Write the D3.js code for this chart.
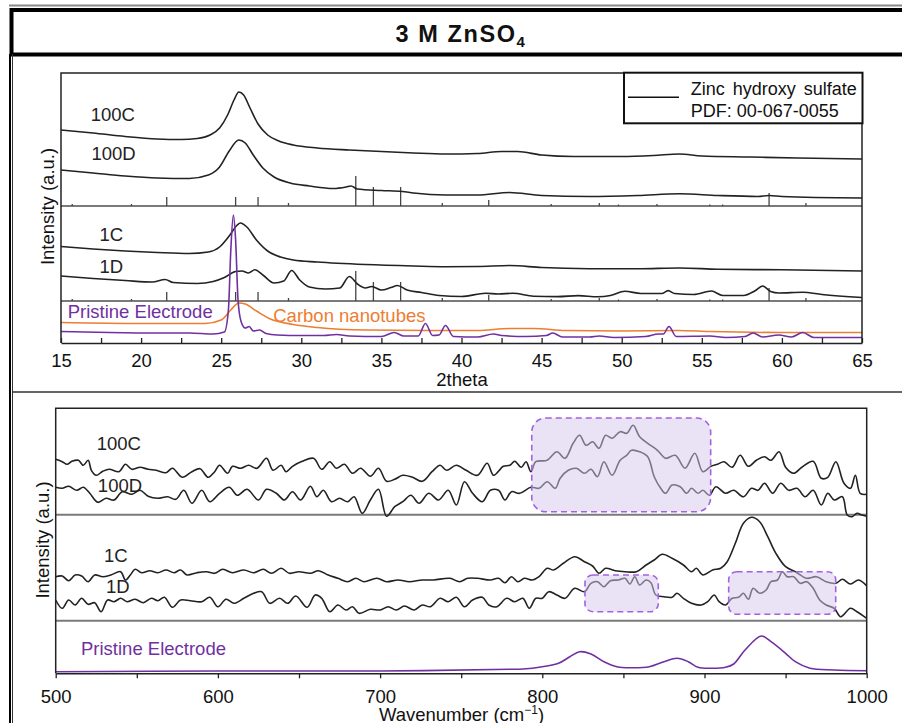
<!DOCTYPE html>
<html>
<head>
<meta charset="UTF-8">
<title>3 M ZnSO4</title>
<style>
  body { margin: 0; background: #fff; }
  svg { display: block; font-family: "Liberation Sans", Arial, sans-serif; }
</style>
</head>
<body>
<svg></svg>
<script src="https://d3js.org/d3.v7.min.js"></script>
<script>

// ---------- data: XRD (2theta, a.u.) ----------
let xrd100C = [[15,213],[17,210],[19,206.5],[21,204],[22.5,203.5],[23.5,204.5],[24.3,208],[24.9,215],[25.4,228],[25.8,243],[26.1,251],[26.4,248],[26.8,235],[27.3,219],[27.9,208],[28.6,202],[29.5,198],[31,195],[33,193],[35,191.5],[37,190],[39,189],[41,189.5],[42.5,191.5],[43.5,191.5],[45,188],[47,186.5],[50,186.5],[52,187.5],[53.6,189],[55,187],[58,186],[61,185],[65,184]];
let xrd100D = [[15,173],[17,170],[19,167],[21,165],[23,164.5],[24.2,168],[24.9,176],[25.5,192],[26.1,203],[26.5,200],[27,188],[27.6,175],[28.3,166],[29.3,160],[30.5,157],[32,154.5],[32.8,156],[33.1,157],[33.5,154],[35,152.5],[36.3,151.5],[37,150],[39,148],[41,148],[43,150.5],[45,147.5],[48,146.5],[51,147.5],[53.6,149.2],[56,147.5],[58.5,146.5],[59.2,147.5],[60,146.5],[65,145]];
let xrd1C = [[15,96.5],[17,94],[19,92],[21,90.5],[23,89.5],[24.2,91],[24.9,96],[25.5,107],[26,118],[26.2,120],[26.6,116],[27.2,103],[27.9,92],[28.7,86],[29.5,83],[31,81],[34,78.5],[37,77],[39,76.3],[41,76.5],[43,77.5],[45,75.5],[48,74.3],[51,74.2],[53.6,75],[56,73.8],[60,73.2],[65,72]];
let xrd1D = [[15,67],[17,64.5],[19,62.5],[20.7,61],[21.5,63.5],[22,60.5],[23.5,59.5],[24.5,61.5],[25.2,65.5],[25.9,71.5],[26.3,72],[26.7,70],[27.1,73.2],[27.6,68],[28.3,60],[28.9,62],[29.4,72.5],[29.9,63],[30.5,56],[31.5,54],[32.4,55],[33,66.5],[33.5,59],[34,55],[34.4,56.5],[35,53],[35.6,55.5],[36,57.5],[36.6,53],[37.5,50.5],[38.6,47.5],[40,46.5],[41.5,49.8],[42.3,49],[43.2,49.7],[44.5,46.8],[46,46.4],[47.3,47.4],[48.5,46.2],[49.3,47.5],[50.2,51.7],[51.2,49.5],[52.5,49.5],[52.9,52.4],[53.3,49.5],[54.5,48.5],[55.6,52],[56.3,47.5],[57.6,47.5],[58.3,52],[58.8,57],[59.3,51.5],[59.8,50],[61.3,50.7],[62.5,48.5],[65,45.5]];
let xrdPristine = [[15,11.5],[18,10.5],[21,10],[23,10],[24.5,9],[25.2,11],[25.45,33],[25.6,93],[25.76,128],[25.9,103],[26.05,43],[26.25,21],[26.5,15],[26.75,16.5],[27,12],[27.4,13],[27.8,9.5],[28.5,8],[30,7.5],[31.4,7.5],[32.2,8.5],[33,7],[35,6.5],[35.8,10.5],[36.4,7],[37.3,7],[37.75,19.5],[38.2,7.5],[38.6,8],[39,17.5],[39.5,6.5],[41,6],[42,9],[42.5,7.5],[44,6.5],[45.3,7.5],[45.7,10],[46.3,6],[48,6],[48.6,7],[49.5,5.5],[51.5,6.5],[52.3,9],[52.6,9],[52.95,16.5],[53.4,6.5],[55.5,7],[56.5,5.5],[57.7,6.5],[58.2,10],[58.8,6],[59.8,8],[60.6,6],[61.3,10.5],[62,5.5],[65,5.5]];
let xrdCNT = [[15,20.5],[20,19.5],[24,19.5],[25,23],[25.6,33],[26.1,40],[26.5,39],[27.2,32],[28,24.5],[29.5,18.5],[31,15.5],[34,13],[38,12.5],[41,12.5],[43,14.5],[44.5,14.5],[46.5,12.5],[50,12],[53.5,12.5],[55.5,11.5],[60,10.5],[65,10.5]];

// reference pattern, zinc hydroxy sulfate PDF 00-067-0055
let pdfPos    = [15.7, 19.4, 21.6, 25.9, 27.3, 29.2, 33.4, 34.5, 36.2, 38.8, 41.7, 45.6, 48.6, 49.8, 52.2, 55.5, 56.3, 59.2, 61.5];
let pdfHeight = [2, 2, 9, 9, 9, 3, 30, 19, 19, 3, 6, 2, 3, 1.5, 2, 1.5, 1.5, 13, 3];
let xrdBaselines = [137, 42];

let xrdLabels = [
  {text: "100C", x: 16.85, y: 222, color: "#222"},
  {text: "100D", x: 16.9, y: 183, color: "#222"},
  {text: "1C", x: 17.4, y: 102.3, color: "#222"},
  {text: "1D", x: 17.4, y: 70.3, color: "#222"},
  {text: "Pristine Electrode", x: 15.42, y: 24.7, color: "#7030A0"},
  {text: "Carbon nanotubes", x: 28.25, y: 21.3, color: "#ED7D31"}
];
let xrdTicks = d3.range(15, 65.01, 2.5);

// ---------- data: Raman (cm-1, a.u.) ----------
let raman100C = [[500,214],[504,211.6],[507,209],[510,212],[514,213],[517,208],[520,213],[522,203],[525,198],[529,202],[533,204],[539,201.6],[543,209],[547,204],[552,206],[557,204],[562,203],[568,200.6],[572,205],[578,196],[584,201.6],[589,204.6],[594,196],[598,201.6],[601,208],[606,200],[609,207],[614,205],[619,208],[624,205],[630,215],[634,203],[639,208],[642,201.6],[646,207],[652,212],[659,215],[664,204],[669,211.6],[673,205],[678,209],[683,200],[688,205],[694,197],[699,205],[704,192],[709,194],[714,198],[720,196],[726,192],[732,201.6],[737,208],[741,203],[747,208],[753,203],[760,198],[766,210],[770,198],[776,207],[780,208],[783,212],[787,206],[790,211.6],[793,201.6],[796,211.6],[803,213],[809,221.6],[814,215],[819,230],[823,238],[827,228],[831,231.6],[835,225],[839,238],[843,235],[848,241.6],[852,240],[856,248],[860,236.6],[865,230],[871,223],[876,215],[882,218],[888,205],[894,220],[899,201.6],[904,207],[908,209],[912,211.6],[917,206],[922,218],[927,207],[932,213],[937,216.6],[941,213],[946,221.6],[950,206],[955,200],[960,206],[967,212],[972,195],[976,196],[981,211.6],[986,190],[990,185],[993,198],[996,180],[1000,179]];
let raman100D = [[500,186],[504,185],[508,187],[513,183],[517,186],[521,180],[526,171],[531,175],[536,173.3],[541,181.6],[547,179],[552,183],[557,177],[563,175],[569,176.6],[574,174],[579,183],[584,170],[590,183],[595,171.6],[601,180],[607,186],[612,178],[618,184],[625,173.3],[630,184],[636,180],[641,173.3],[646,181.6],[651,173.3],[657,187],[661,176.6],[665,183],[670,171.6],[675,175],[680,171.6],[684,176.6],[689,160],[694,173.3],[699,184],[704,157],[709,166.6],[714,171.6],[719,178],[724,170],[730,180],[736,173.3],[742,183],[747,168.3],[752,191.6],[757,180],[763,171.6],[768,183],[773,183],[777,173.3],[781,181.6],[786,180],[793,186],[798,185],[803,191.6],[808,185],[811,195],[816,203],[821,205],[826,200],[830,204],[834,196.6],[838,211.6],[843,198],[848,213],[852,218],[855,223],[860,221.6],[865,216.6],[869,196.6],[873,185],[876,180],[880,188.3],[885,186.6],[889,180],[892,185],[896,180],[899,183],[903,178],[907,186.6],[913,180],[918,183],[924,176.6],[929,185],[933,183],[937,190],[942,180],[947,190],[952,183],[957,185],[962,176.6],[967,183],[972,168.3],[976,180],[980,173.3],[985,176.6],[988,158.3],[991,156.6],[994,160],[997,158.3],[1000,157]];
let raman1C = [[500,96.6],[504,97.3],[508,92.6],[512,98.3],[516,97.3],[520,91.6],[524,98.3],[529,96.6],[534,98.3],[540,101.6],[543,93.3],[546,98.3],[549,104],[553,100.6],[558,102.6],[563,100.6],[568,103.3],[573,100.6],[577,103.3],[581,98.3],[587,100.6],[593,101.6],[598,100],[603,104],[609,100.6],[616,103.3],[622,100.6],[628,104],[633,100],[639,105],[644,100],[650,101.6],[657,100],[662,102.6],[668,98.3],[674,95],[680,91.6],[685,95],[690,91.6],[698,95],[704,91.6],[711,93.3],[718,91.6],[726,93.3],[733,93.3],[743,95],[749,91.6],[754,95],[760,95],[768,93.3],[773,95],[777,90.6],[781,96.6],[785,91.6],[789,95],[794,93.3],[798,96.6],[803,105],[807,103.3],[813,110],[820,116.6],[826,111.6],[831,107.3],[835,100],[839,105],[845,102.6],[851,101.6],[858,101.6],[864,108.3],[869,113.3],[874,119],[880,115],[887,108.3],[892,101.6],[895,105],[899,98.3],[905,103.3],[910,105],[914,111.6],[919,130],[924,150],[929,156],[934,151.6],[939,136.6],[944,120],[950,106.6],[956,101.6],[963,95],[969,96.6],[975,91.6],[981,90],[985,94],[990,89.3],[995,93.3],[1000,87.3]];
let raman1D = [[500,73.3],[504,65],[508,73.3],[512,68.3],[516,75],[520,69],[524,70.6],[528,61.6],[532,73.3],[536,71.6],[540,75],[544,71.6],[549,74],[554,70.6],[559,75],[563,72.6],[567,76],[572,66],[577,73.3],[583,72.6],[590,71.6],[595,76],[600,66.6],[605,74],[610,70],[616,75],[622,80],[627,81.6],[632,70],[638,75],[643,70],[648,77.3],[655,66],[660,78.3],[664,75],[669,61.6],[674,68.3],[679,63.3],[683,66.6],[687,60],[694,64],[700,63.3],[705,66.6],[710,63.3],[715,67.3],[721,63.3],[726,68.3],[731,66.6],[737,75],[742,71.6],[747,76],[752,66.6],[757,73.3],[763,76],[767,68.3],[772,66.6],[778,75],[783,71.6],[788,75],[792,65],[796,75],[800,75],[804,81.6],[809,78.3],[814,75],[820,85],[826,81.6],[830,90],[834,91.6],[838,86.6],[842,92.6],[847,93.3],[851,95],[854,89.3],[857,96.6],[860,88.3],[864,93.3],[867,90.6],[870,78.3],[875,76.6],[880,76],[883,80],[887,75],[892,70],[898,68.3],[902,71.6],[906,78.3],[909,71.6],[913,68.3],[917,75],[921,76],[924,80],[927,74],[930,85],[934,80],[938,83.3],[941,91.6],[945,93.3],[948,101.6],[951,96.6],[955,96.6],[959,90],[963,91.6],[967,85],[971,73.3],[975,68.3],[980,65],[984,56.6],[990,65],[994,61.6],[1000,55]];
let ramanPristine = [[500,1.6],[600,2.3],[700,2.3],[780,4],[788,4.3],[800,6.6],[810,10],[817,16.6],[823,21.6],[830,19.3],[838,11.6],[846,6.6],[855,5.6],[866,6.6],[875,11.6],[883,15],[890,11.6],[896,6],[904,5],[913,6],[918,9.3],[925,23.3],[935,37.3],[941,31.6],[950,20],[956,11.6],[965,5],[980,3.3],[1000,2.6]];

// highlighted regions: [x0, x1, y0, y1] in data units
let ramanBoxes = [[793.5, 903.8, 161.6, 255.3], [826.3, 871.5, 61.6, 98.3], [914.9, 980.9, 59, 101.6]];
let ramanDividers = [158.6, 52.6];

let ramanLabels = [
  {text: "100C", x: 525.3, y: 223.3, color: "#222"},
  {text: "100D", x: 526, y: 181.6, color: "#222"},
  {text: "1C", x: 529.8, y: 111.6, color: "#222"},
  {text: "1D", x: 531, y: 80.3, color: "#222"},
  {text: "Pristine Electrode", x: 515.6, y: 18.3, color: "#7030A0"}
];
let ramanTicks = d3.range(500, 1000.1, 50);

// ---------- svg ----------
let width = 902, height = 723;
let svg = d3.select("svg").attr("width", width).attr("height", height);

let black = "#222", purple = "#7030A0", orange = "#ED7D31";
let fs = 18.5;

// outer frame
svg.append("line").attr("x1", 9).attr("x2", width).attr("y1", 5.5).attr("y2", 5.5)
  .attr("stroke", "#888").attr("stroke-width", 2);
svg.append("rect").attr("x", 11.5).attr("y", 10).attr("width", 1000).attr("height", 44.5)
  .attr("fill", "none").attr("stroke", "#000").attr("stroke-width", 4);
svg.append("line").attr("x1", 10).attr("x2", 10).attr("y1", 54).attr("y2", height)
  .attr("stroke", "#000").attr("stroke-width", 2);
svg.append("line").attr("x1", 12.5).attr("x2", 12.5).attr("y1", 54).attr("y2", height)
  .attr("stroke", "#333").attr("stroke-width", 1);
svg.append("line").attr("x1", 12).attr("x2", width).attr("y1", 392).attr("y2", 392)
  .attr("stroke", "#333").attr("stroke-width", 1.5);

// title
let title = svg.append("text").attr("x", 461).attr("y", 42.3).attr("text-anchor", "middle")
  .attr("font-size", 23.5).attr("font-weight", "bold").attr("letter-spacing", 1.6).attr("fill", "#111")
  .text("3 M ZnSO");
title.append("tspan").attr("dy", 5).attr("font-size", 15).text("4");

// ---------- XRD panel ----------
let x1 = d3.scaleLinear().domain([15, 65]).range([61, 862]);
let y1 = d3.scaleLinear().domain([0, 270]).range([343, 73]);

let g1 = svg.append("g");

// dividers
xrdBaselines.forEach(b => {
  g1.append("line").attr("x1", x1(15)).attr("x2", x1(65)).attr("y1", y1(b)).attr("y2", y1(b))
    .attr("stroke", "#7a7a7a").attr("stroke-width", 2);
});

// reference sticks on each divider
xrdBaselines.forEach(b => {
  g1.append("g").selectAll("line").data(pdfPos).enter().append("line")
    .attr("x1", d => x1(d)).attr("x2", d => x1(d))
    .attr("y1", y1(b)).attr("y2", (d, i) => y1(b + pdfHeight[i]))
    .attr("stroke", "#444").attr("stroke-width", 1.3);
});

let line1 = d3.line().x(d => x1(d[0])).y(d => y1(d[1])).curve(d3.curveMonotoneX);
[[xrd100C, black], [xrd100D, black], [xrd1C, black], [xrd1D, black], [xrdCNT, orange], [xrdPristine, purple]]
  .forEach(s => {
    g1.append("path").datum(s[0]).attr("d", line1)
      .attr("fill", "none").attr("stroke", s[1]).attr("stroke-width", 1.6);
  });

// frame of plot
g1.append("path")
  .attr("d", `M${x1(15)},${y1(0)}V${y1(270)}H${x1(65)}V${y1(0)}`)
  .attr("fill", "none").attr("stroke", "#222").attr("stroke-width", 1.5);

// x axis
let ax1 = g1.append("g").attr("transform", `translate(0,${y1(0)})`)
  .call(d3.axisBottom(x1).tickValues(xrdTicks).tickSize(-5).tickSizeOuter(0).tickPadding(11)
    .tickFormat(d => d % 5 === 0 ? d : ""));
ax1.attr("font-size", fs).attr("font-family", null);
ax1.select(".domain").attr("stroke", "#222").attr("stroke-width", 1.5);
ax1.selectAll(".tick line").attr("stroke", "#222").attr("stroke-width", 1.3);
ax1.selectAll(".tick text").attr("fill", "#111");

g1.append("text").attr("x", 462).attr("y", 386).attr("text-anchor", "middle")
  .attr("font-size", fs).attr("fill", "#111").text("2theta");
g1.append("text").attr("transform", "translate(54,206.5) rotate(-90)").attr("text-anchor", "middle")
  .attr("font-size", fs).attr("fill", "#111").text("Intensity (a.u.)");

g1.selectAll(".lbl").data(xrdLabels).enter().append("text")
  .attr("x", d => x1(d.x)).attr("y", d => y1(d.y))
  .attr("font-size", fs).attr("fill", d => d.color).text(d => d.text);

// legend
let lg = g1.append("g");
lg.append("rect").attr("x", 624).attr("y", 72.7).attr("width", 238.5).attr("height", 50.6)
  .attr("fill", "#fff").attr("stroke", "#111").attr("stroke-width", 2);
lg.append("line").attr("x1", 628).attr("x2", 679).attr("y1", 97.3).attr("y2", 97.3)
  .attr("stroke", "#111").attr("stroke-width", 1.6);
lg.append("text").attr("x", 690.7).attr("y", 95).attr("font-size", 18).attr("fill", "#111")
  .attr("word-spacing", 3).text("Zinc hydroxy sulfate");
lg.append("text").attr("x", 690.7).attr("y", 116.7).attr("font-size", 18).attr("fill", "#111")
  .text("PDF: 00-067-0055");

// ---------- Raman panel ----------
let x2 = d3.scaleLinear().domain([500, 1000]).range([55.7, 866.7]);
let y2 = d3.scaleLinear().domain([0, 265]).range([673.3, 408.3]);

let g2 = svg.append("g");

ramanDividers.forEach(b => {
  g2.append("line").attr("x1", x2(500)).attr("x2", x2(1000)).attr("y1", y2(b)).attr("y2", y2(b))
    .attr("stroke", "#7a7a7a").attr("stroke-width", 2);
});

let line2 = d3.line().x(d => x2(d[0])).y(d => y2(d[1])).curve(d3.curveCatmullRom.alpha(0.5));
[[raman100C, black], [raman100D, black], [raman1C, black], [raman1D, black], [ramanPristine, purple]]
  .forEach(s => {
    g2.append("path").datum(s[0]).attr("d", line2)
      .attr("fill", "none").attr("stroke", s[1]).attr("stroke-width", 1.6);
  });

// highlighted boxes over the curves
g2.selectAll(".box").data(ramanBoxes).enter().append("rect")
  .attr("x", d => x2(d[0])).attr("y", d => y2(d[3]))
  .attr("width", d => x2(d[1]) - x2(d[0])).attr("height", d => y2(d[2]) - y2(d[3]))
  .attr("rx", d => (d[1] - d[0]) > 80 ? 14 : 8)
  .attr("fill", "#D6C8EE").attr("fill-opacity", 0.5)
  .attr("stroke", "#A262E0").attr("stroke-width", 1.6).attr("stroke-dasharray", "6,4");

g2.append("path")
  .attr("d", `M${x2(500)},${y2(0)}V${y2(265)}H${x2(1000)}V${y2(0)}`)
  .attr("fill", "none").attr("stroke", "#222").attr("stroke-width", 1.5);

let ax2 = g2.append("g").attr("transform", `translate(0,${y2(0)})`)
  .call(d3.axisBottom(x2).tickValues(ramanTicks).tickSize(5).tickSizeOuter(0).tickPadding(12)
    .tickFormat(d => d % 100 === 0 ? d : ""));
ax2.attr("font-size", fs).attr("font-family", null);
ax2.select(".domain").attr("stroke", "#222").attr("stroke-width", 1.5);
ax2.selectAll(".tick line").attr("stroke", "#222").attr("stroke-width", 1.3);
ax2.selectAll(".tick text").attr("fill", "#111");

let xt2 = g2.append("text").attr("x", 461.5).attr("y", 721).attr("text-anchor", "middle")
  .attr("font-size", fs).attr("fill", "#111").text("Wavenumber (cm");
xt2.append("tspan").attr("dy", -7).attr("font-size", 12).text("\u22121");
xt2.append("tspan").attr("dy", 7).text(")");

g2.append("text").attr("transform", "translate(49,540) rotate(-90)").attr("text-anchor", "middle")
  .attr("font-size", fs).attr("fill", "#111").text("Intensity (a.u.)");

g2.selectAll(".lbl").data(ramanLabels).enter().append("text")
  .attr("x", d => x2(d.x)).attr("y", d => y2(d.y))
  .attr("font-size", fs).attr("fill", d => d.color).text(d => d.text);

</script>
</body>
</html>
